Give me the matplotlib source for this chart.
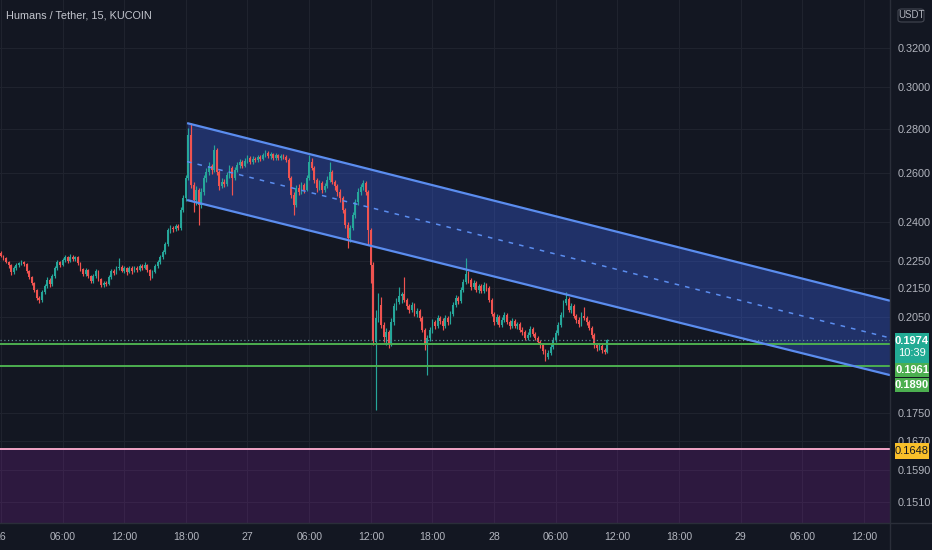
import numpy as np
import matplotlib
matplotlib.use("Agg")
import matplotlib.pyplot as plt
from matplotlib import font_manager
from matplotlib.patches import Rectangle, FancyBboxPatch
from matplotlib.ticker import FixedLocator, FixedFormatter, NullLocator

# ---------------- data (15-minute bars, bar 0 = 26th 00:00) ----------------
opens = [
    .2280, .2268, .2261, .2246, .2235, .2209, .2223, .2235, .2242, .2246, .2238, .2213,
    .2191, .2169, .2144, .2115, .2108, .2137, .2158, .2180, .2166, .2195, .2223, .2246,
    .2235, .2253, .2264, .2250, .2264, .2257, .2264, .2242, .2220, .2202, .2216, .2195,
    .2176, .2195, .2213, .2183, .2162, .2169, .2166, .2191, .2213, .2205, .2223, .2227,
    .2213, .2223, .2209, .2223, .2213, .2223, .2216, .2231, .2223, .2235, .2216, .2195,
    .2209, .2231, .2246, .2264, .2283, .2314, .2368, .2376, .2372, .2384, .2376, .2447,
    .2497, .2581, .2771, .2551, .2488, .2530, .2468, .2521, .2581, .2606, .2633, .2615,
    .2703, .2606, .2547, .2564, .2555, .2594, .2624, .2581, .2615, .2637, .2650, .2633,
    .2654, .2668, .2650, .2663, .2659, .2672, .2663, .2681, .2690, .2677, .2685, .2668,
    .2681, .2668, .2677, .2672, .2659, .2581, .2509, .2468, .2538, .2521, .2551, .2530,
    .2581, .2650, .2624, .2572, .2538, .2560, .2530, .2547, .2572, .2606, .2564, .2547,
    .2521, .2497, .2447, .2387, .2337, .2376, .2427, .2480, .2521, .2543, .2560, .2521,
    .2368, .2235, .1966, .2047, .2091, .2023, .1983, .2000, .1960, .2033, .2088, .2101,
    .2122, .2130, .2108, .2088, .2074, .2091, .2060, .2071, .2047, .2006, .1957, .1980,
    .2006, .2033, .2020, .2047, .2037, .2020, .2047, .2033, .2060, .2091, .2115, .2105,
    .2144, .2173, .2202, .2180, .2155, .2169, .2144, .2158, .2140, .2162, .2151, .2108,
    .2060, .2033, .2050, .2023, .2040, .2057, .2033, .2020, .2037, .2020, .2027, .2006,
    .2000, .1980, .1990, .2010, .1993, .1980, .1966, .1957, .1938, .1919, .1931, .1950,
    .1973, .1996, .2023, .2057, .2098, .2112, .2074, .2088, .2054, .2040, .2027, .2054,
    .2047, .2033, .2013, .1990, .1957, .1947, .1954, .1941, .1935,
]
highs = [
    .2287, .2272, .2265, .2250, .2238, .2231, .2242, .2246, .2253, .2250, .2242, .2216,
    .2194, .2173, .2148, .2122, .2144, .2166, .2191, .2187, .2202, .2231, .2253, .2250,
    .2261, .2272, .2268, .2276, .2272, .2268, .2268, .2246, .2223, .2223, .2220, .2198,
    .2202, .2220, .2216, .2187, .2176, .2176, .2198, .2220, .2220, .2231, .2261, .2235,
    .2231, .2227, .2231, .2231, .2231, .2231, .2238, .2238, .2246, .2238, .2220, .2216,
    .2238, .2253, .2272, .2291, .2322, .2376, .2387, .2384, .2391, .2391, .2459, .2509,
    .2594, .2803, .2826, .2564, .2547, .2538, .2538, .2594, .2624, .2650, .2641, .2726,
    .2712, .2615, .2581, .2577, .2606, .2637, .2633, .2628, .2650, .2663, .2659, .2668,
    .2681, .2677, .2677, .2672, .2681, .2681, .2690, .2703, .2699, .2694, .2690, .2690,
    .2685, .2685, .2685, .2681, .2668, .2589, .2521, .2551, .2555, .2564, .2560, .2594,
    .2681, .2668, .2633, .2581, .2572, .2568, .2560, .2589, .2650, .2615, .2572, .2555,
    .2534, .2505, .2455, .2399, .2387, .2439, .2493, .2538, .2555, .2572, .2568, .2530,
    .2376, .2246, .2074, .2133, .2119, .2033, .2013, .2006, .2047, .2098, .2115, .2155,
    .2137, .2191, .2115, .2094, .2101, .2098, .2081, .2077, .2054, .2013, .1990, .2017,
    .2044, .2040, .2057, .2054, .2047, .2057, .2054, .2071, .2101, .2126, .2122, .2155,
    .2183, .2261, .2213, .2187, .2180, .2176, .2166, .2166, .2173, .2169, .2158, .2115,
    .2067, .2060, .2057, .2050, .2067, .2064, .2040, .2047, .2044, .2033, .2033, .2017,
    .2006, .2000, .2020, .2017, .2000, .1986, .1973, .1963, .1944, .1941, .1960, .1983,
    .2006, .2033, .2067, .2108, .2137, .2119, .2098, .2094, .2060, .2050, .2067, .2084,
    .2054, .2040, .2020, .1996, .1963, .1960, .1960, .1947, .1976,
]
lows = [
    .2265, .2253, .2242, .2223, .2198, .2202, .2216, .2227, .2235, .2231, .2205, .2183,
    .2162, .2137, .2108, .2098, .2101, .2130, .2151, .2155, .2158, .2187, .2216, .2227,
    .2231, .2246, .2242, .2246, .2250, .2250, .2235, .2213, .2195, .2195, .2187, .2169,
    .2169, .2187, .2176, .2155, .2155, .2158, .2162, .2183, .2198, .2202, .2216, .2209,
    .2205, .2198, .2205, .2202, .2209, .2209, .2213, .2216, .2220, .2209, .2180, .2187,
    .2205, .2223, .2238, .2257, .2276, .2306, .2356, .2360, .2364, .2368, .2368, .2439,
    .2484, .2572, .2538, .2439, .2468, .2387, .2455, .2509, .2564, .2594, .2598, .2606,
    .2594, .2530, .2538, .2543, .2547, .2581, .2509, .2572, .2606, .2624, .2624, .2628,
    .2646, .2641, .2641, .2650, .2650, .2654, .2659, .2672, .2668, .2663, .2659, .2659,
    .2659, .2659, .2663, .2650, .2572, .2497, .2427, .2459, .2509, .2513, .2517, .2526,
    .2572, .2615, .2560, .2521, .2530, .2517, .2521, .2538, .2564, .2555, .2530, .2505,
    .2480, .2435, .2376, .2299, .2322, .2368, .2415, .2468, .2509, .2530, .2509, .2310,
    .2169, .1957, .1757, .2033, .2013, .1966, .1957, .1947, .1954, .2023, .2074, .2094,
    .2098, .2101, .2077, .2064, .2067, .2054, .2050, .2037, .2000, .1941, .1862, .1970,
    .1996, .2010, .2013, .2027, .2006, .2013, .2023, .2027, .2054, .2084, .2094, .2098,
    .2137, .2166, .2169, .2144, .2148, .2137, .2133, .2133, .2133, .2140, .2101, .2054,
    .2023, .2027, .2017, .2017, .2033, .2027, .2010, .2013, .2013, .2010, .2000, .1990,
    .1973, .1973, .1983, .1986, .1973, .1960, .1947, .1928, .1906, .1912, .1925, .1944,
    .1966, .1990, .2017, .2050, .2091, .2067, .2064, .2047, .2030, .2017, .2020, .2040,
    .2023, .2006, .1980, .1947, .1938, .1941, .1931, .1928, .1931,
]
closes = [
    .2268, .2261, .2246, .2235, .2209, .2223, .2235, .2242, .2246, .2238, .2213, .2191,
    .2169, .2144, .2115, .2108, .2137, .2158, .2180, .2166, .2195, .2223, .2246, .2235,
    .2253, .2264, .2250, .2264, .2257, .2264, .2242, .2220, .2202, .2216, .2195, .2176,
    .2195, .2213, .2183, .2162, .2169, .2166, .2191, .2213, .2205, .2223, .2227, .2213,
    .2223, .2209, .2223, .2213, .2223, .2216, .2231, .2223, .2235, .2216, .2195, .2209,
    .2231, .2246, .2264, .2283, .2314, .2368, .2376, .2372, .2384, .2376, .2447, .2497,
    .2581, .2771, .2551, .2488, .2530, .2468, .2521, .2581, .2606, .2633, .2615, .2703,
    .2606, .2547, .2564, .2555, .2594, .2624, .2581, .2615, .2637, .2650, .2633, .2654,
    .2668, .2650, .2663, .2659, .2672, .2663, .2681, .2690, .2677, .2685, .2668, .2681,
    .2668, .2677, .2672, .2659, .2581, .2509, .2468, .2538, .2521, .2551, .2530, .2581,
    .2650, .2624, .2572, .2538, .2560, .2530, .2547, .2572, .2606, .2564, .2547, .2521,
    .2497, .2447, .2387, .2337, .2376, .2427, .2480, .2521, .2543, .2560, .2521, .2368,
    .2235, .1973, .2047, .2091, .2023, .1983, .2000, .1960, .2033, .2088, .2101, .2122,
    .2130, .2108, .2088, .2074, .2091, .2060, .2071, .2047, .2006, .1957, .1980, .2006,
    .2033, .2020, .2047, .2037, .2020, .2047, .2033, .2060, .2091, .2115, .2105, .2144,
    .2173, .2202, .2180, .2155, .2169, .2144, .2158, .2140, .2162, .2151, .2108, .2060,
    .2033, .2050, .2023, .2040, .2057, .2033, .2020, .2037, .2020, .2027, .2006, .2000,
    .1980, .1990, .2010, .1993, .1980, .1966, .1957, .1938, .1919, .1931, .1950, .1973,
    .1996, .2023, .2057, .2098, .2112, .2074, .2088, .2054, .2040, .2027, .2054, .2047,
    .2033, .2013, .1990, .1957, .1947, .1954, .1941, .1935, .1974,
]

# parallel channel drawing (bar index, price)
channel_x = [72.5, 346.1]
channel_upper = [0.2826, 0.2106]
channel_lower = [0.2488, 0.1862]

# horizontal levels
last_price = 0.1974
green_levels = [0.1961, 0.1890]
pink_level = 0.1648

# axis ticks
y_ticks = [0.3200, 0.3000, 0.2800, 0.2600, 0.2400, 0.2250, 0.2150, 0.2050,
           0.1750, 0.1670, 0.1590, 0.1510]
x_tick_bars = [0, 24, 48, 72, 96, 120, 144, 168, 192, 216, 240, 264, 288, 312, 336]
x_tick_labels = ["26", "06:00", "12:00", "18:00", "27", "06:00", "12:00", "18:00",
                 "28", "06:00", "12:00", "18:00", "29", "06:00", "12:00"]

title = "Humans / Tether, 15, KUCOIN"

# ---------------- style ----------------
BG = "#131722"
GRID = "#1f232e"
TXT = "#b2b5be"
UP = "#26a69a"
DN = "#ef5350"

names = {f.name for f in font_manager.fontManager.ttflist}
NARROW = "Liberation Sans Narrow" if "Liberation Sans Narrow" in names else "Liberation Sans"
plt.rcParams["font.family"] = [NARROW, "DejaVu Sans"]

W, H = 932, 550
PR, PB = 890, 523
fig = plt.figure(figsize=(W / 100, H / 100), dpi=100, facecolor=BG)
ax = fig.add_axes([0, 1 - PB / H, PR / W, PB / H])
ax.set_facecolor(BG)

o = np.array(opens); h = np.array(highs); l = np.array(lows); c = np.array(closes)
x = np.arange(len(c))
up = c >= o
cols = np.where(up, UP, DN)

ax.set_yscale("log")
ax.set_xlim(-0.33, 346.1)
ax.set_ylim(0.14576, 0.3465)

# grid and ticks
ax.yaxis.set_major_locator(FixedLocator(y_ticks))
ax.yaxis.set_major_formatter(FixedFormatter([f"{v:.4f}" for v in y_ticks]))
ax.yaxis.set_minor_locator(NullLocator())
ax.xaxis.set_major_locator(FixedLocator(x_tick_bars))
ax.xaxis.set_major_formatter(FixedFormatter(x_tick_labels))
ax.grid(True, color=GRID, lw=0.8, zorder=0)
ax.set_axisbelow(True)
ax.yaxis.tick_right()
ax.tick_params(axis="y", length=0, pad=5.5, labelsize=7.8, labelcolor=TXT)
ax.tick_params(axis="x", length=0, pad=6.5, labelsize=7.6, labelcolor=TXT)
for s in ax.spines.values():
    s.set_visible(False)

# purple zone below pink level
ax.axhspan(0.14, pink_level, color="#8e24aa", alpha=0.22, lw=0, zorder=1)
ax.axhline(pink_level, color="#f4a6c8", lw=1.4, zorder=5)

# channel
ax.fill_between(channel_x, channel_lower, channel_upper, color="#3a66f0",
                alpha=0.34, lw=0, zorder=1)
ax.plot(channel_x, channel_upper, color="#5b8def", lw=1.6, zorder=6,
        solid_capstyle="butt")
ax.plot(channel_x, channel_lower, color="#5b8def", lw=1.6, zorder=6,
        solid_capstyle="butt")
mid = np.sqrt(np.array(channel_upper) * np.array(channel_lower))
ax.plot(channel_x, mid, color="#5b8def", lw=1.1, ls=(0, (3, 4)), zorder=6)

# candles
ax.vlines(x, l, h, colors=cols, lw=0.85, zorder=3)
ax.bar(x, np.abs(c - o), bottom=np.minimum(o, c), width=0.7, color=cols,
       lw=0, zorder=4)

# levels
ax.axhline(last_price, color="#5f8f96", lw=0.9, ls=(0, (1, 2)), zorder=5)
for lv in green_levels:
    ax.axhline(lv, color="#4caf50", lw=1.4, zorder=5)

# borders of price/time scales
fig.add_artist(plt.Line2D([PR / W, PR / W], [0, 1], color="#2a2e39", lw=1,
                          transform=fig.transFigure))
fig.add_artist(plt.Line2D([0, 1], [1 - PB / H, 1 - PB / H], color="#2a2e39", lw=1,
                          transform=fig.transFigure))

def box(x0, y0, x1, y1, fc):
    fig.add_artist(Rectangle((x0 / W, 1 - y1 / H), (x1 - x0) / W, (y1 - y0) / H,
                             transform=fig.transFigure, facecolor=fc,
                             edgecolor="none", zorder=5))

def ftxt(px, py, s, **kw):
    fig.text(px / W, 1 - py / H, s, zorder=6, **kw)

# title
ftxt(6, 15, title, color="#c3c6ce", fontsize=7.8, ha="left", va="center")

# USDT box
fig.add_artist(FancyBboxPatch((898 / W, 1 - 22 / H), 26 / W, 13 / H,
                              boxstyle="round,pad=0,rounding_size=0.004",
                              transform=fig.transFigure, facecolor=BG,
                              edgecolor="#434651", lw=0.8, zorder=5))
ftxt(911, 15.5, "USDT", color=TXT, fontsize=7, ha="center", va="center")

# price labels on the scale
box(895, 333, 929, 363, "#22ab94")
ftxt(912, 341, f"{last_price:.4f}", color="white", fontsize=8, ha="center",
     va="center", fontweight="bold")
ftxt(912, 353, "10:39", color="white", fontsize=8, ha="center", va="center")
box(895, 363, 929, 377, "#4caf50")
ftxt(912, 370, f"{green_levels[0]:.4f}", color="white", fontsize=8, ha="center",
     va="center", fontweight="bold")
box(895, 378, 929, 392, "#4caf50")
ftxt(912, 385, f"{green_levels[1]:.4f}", color="white", fontsize=8, ha="center",
     va="center", fontweight="bold")
box(895, 443, 929, 459, "#f9c02a")
ftxt(912, 451, f"{pink_level:.4f}", color="#131722", fontsize=8, ha="center",
     va="center")

fig.savefig("out.png", dpi=100, facecolor=BG)
